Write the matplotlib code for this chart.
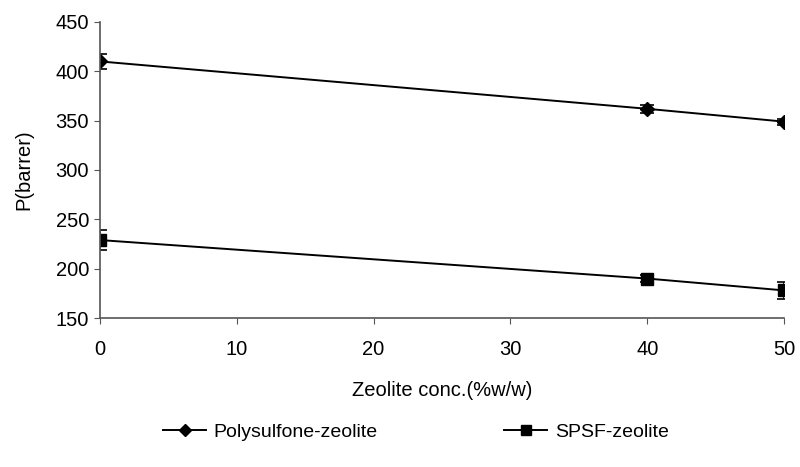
import matplotlib.pyplot as plt
from matplotlib.lines import Line2D

plt.rcParams['font.family'] = ['Liberation Sans', 'DejaVu Sans']

# 제올라이트 함량별 투과도 데이터
zeolite = [0, 40, 50]
psf_p = [410, 362, 349]
psf_err = [8, 4, 3]
spsf_p = [229, 190, 178]
spsf_err = [10, 4, 9]

fig = plt.figure(figsize=(8, 4.67), dpi=100)
ax = fig.add_axes([0.125, 0.319, 0.855, 0.634])

ax.errorbar(zeolite, psf_p, yerr=psf_err, color='black', marker='D', markersize=7,
            linewidth=1.4, capsize=5, elinewidth=1.2, capthick=1.2)
ax.errorbar(zeolite, spsf_p, yerr=spsf_err, color='black', marker='s', markersize=8,
            linewidth=1.4, capsize=5, elinewidth=1.2, capthick=1.2)

ax.set_xlim(0, 50)
ax.set_ylim(150, 450)
ax.set_xticks(range(0, 51, 10))
ax.set_yticks(range(150, 451, 50))

for side in ['top', 'right']:
    ax.spines[side].set_visible(False)
for side in ['left', 'bottom']:
    ax.spines[side].set_color('#555555')
    ax.spines[side].set_linewidth(1.2)

ax.tick_params(axis='both', direction='out', length=4, color='#555555', labelsize=14.5)
ax.tick_params(axis='x', pad=12)
ax.tick_params(axis='y', pad=4)

ax.set_xlabel('Zeolite conc.(%w/w)', fontsize=14.5, labelpad=16)
ax.set_ylabel('P(barrer)', fontsize=14.5, labelpad=16)

# 범례 (그래프 아래쪽)
handles = [Line2D([], [], color='black', marker='D', markersize=6, linewidth=1.4),
           Line2D([], [], color='black', marker='s', markersize=7, linewidth=1.4)]
fig.legend(handles, ['Polysulfone-zeolite', 'SPSF-zeolite'], loc='center',
           bbox_to_anchor=(0.52, 0.075), ncol=2, frameon=False, fontsize=14,
           columnspacing=6.5, handlelength=2.2, handletextpad=0.4)

fig.savefig('out.png', dpi=100)
